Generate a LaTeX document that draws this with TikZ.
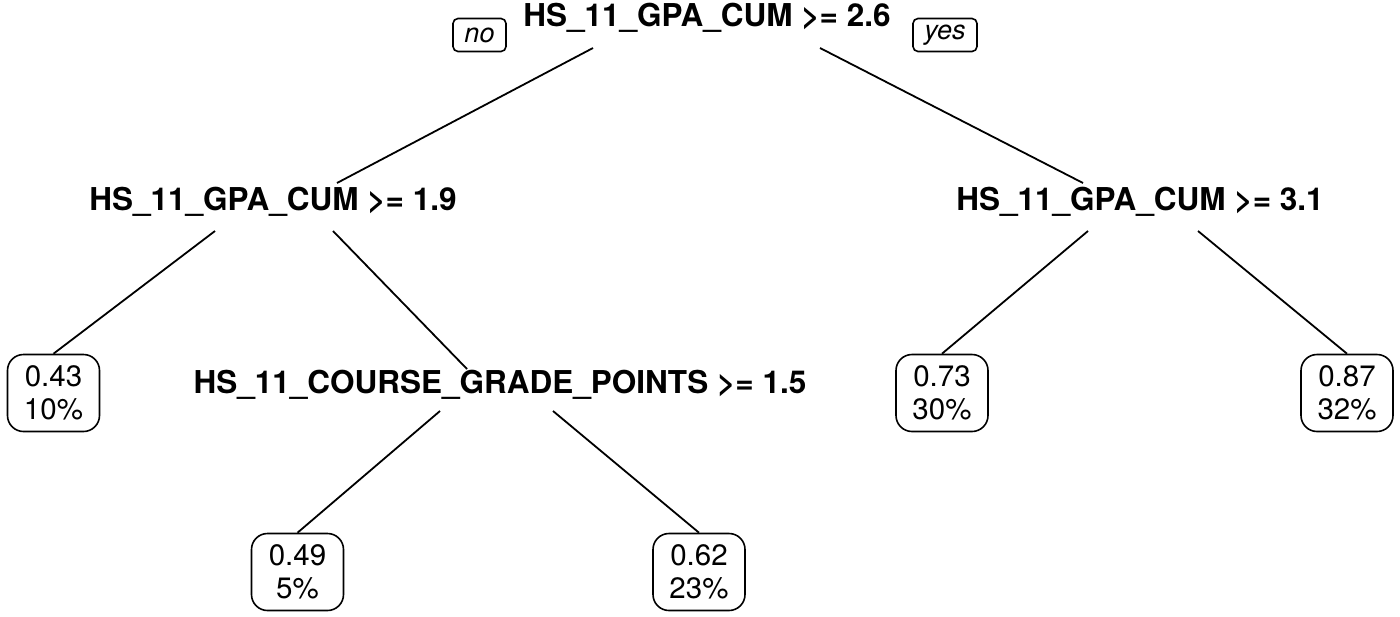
\documentclass[tikz,border=0pt]{standalone}
\usepackage{fontspec}
\setmainfont{TeX Gyre Heros}
\usetikzlibrary{calc}
\begin{document}
\begin{tikzpicture}[x=1pt,y=-1pt,
  split/.style={inner sep=0pt,font=\fontsize{31.5}{31.5}\selectfont\bfseries,
    text height=0.72em,text depth=0pt},
  leaf/.style={draw,line width=1.6pt,rounded corners=16pt,align=center,
    minimum width=92pt,minimum height=77pt,inner sep=0pt,
    font=\fontsize{29.5}{33}\selectfont},
  tag/.style={draw,line width=1.6pt,rounded corners=5pt,inner sep=0pt,
    minimum height=33pt,font=\fontsize{27}{27}\selectfont\itshape},
  edge/.style={line width=1.8pt}]
\useasboundingbox (0,0) rectangle (1400,616);
\fill[white] (0,0) rectangle (1400,616);

% split labels
\node[split] (root) at (707,22.5) {HS\_11\_GPA\_CUM >= 2.6};
\node[split] (l2l) at (273,207) {HS\_11\_GPA\_CUM >= 1.9};
\node[split] (l2r) at (1140,207) {HS\_11\_GPA\_CUM >= 3.1};
\node[split] (l3) at (500,390) {HS\_11\_COURSE\_GRADE\_POINTS >= 1.5};

% branch direction tags
\node[tag,minimum width=53pt] (no) at (479.5,35) {no};
\node[tag,minimum width=64pt] (yes) at (945,35) {yes};

% leaves
\node[leaf] (a) at (53.5,393) {0.43\\10\%};
\node[leaf] (b) at (297.5,572) {0.49\\5\%};
\node[leaf] (c) at (699,572) {0.62\\23\%};
\node[leaf] (d) at (942,393) {0.73\\30\%};
\node[leaf] (e) at (1347,393) {0.87\\32\%};

% branches
\draw[edge] ($(root)+(-114,25.5)$) -- ($(l2l)+(64,-24)$);
\draw[edge] ($(root)+(113,25.5)$) -- ($(l2r)+(-57,-24)$);
\draw[edge] ($(l2l)+(-58,24)$) -- (a.north);
\draw[edge] ($(l2l)+(60,24)$) -- ($(l3)+(-33,-21)$);
\draw[edge] ($(l2r)+(-52,24)$) -- (d.north);
\draw[edge] ($(l2r)+(58,24)$) -- (e.north);
\draw[edge] ($(l3)+(-60,21)$) -- (b.north);
\draw[edge] ($(l3)+(53,21)$) -- (c.north);
\end{tikzpicture}
\end{document}
